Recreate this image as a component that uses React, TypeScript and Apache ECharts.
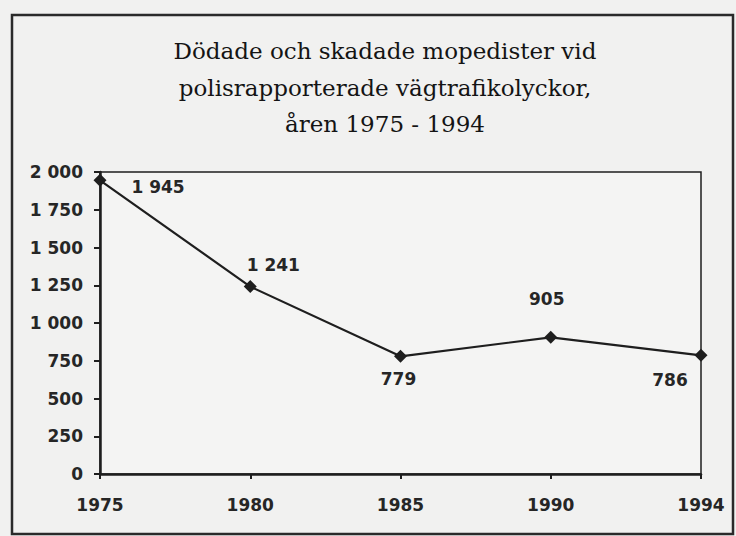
import React, { useEffect, useRef } from "react";
import * as echarts from "echarts";

const titleLines = [
  "Dödade och skadade mopedister vid",
  "polisrapporterade vägtrafikolyckor,",
  "åren 1975 - 1994",
];
const years = ["1975", "1980", "1985", "1990", "1994"];
const casualties = [1945, 1241, 779, 905, 786];
const yTicks = { min: 0, max: 2000, interval: 250 };
// label offsets (relative to marker centre) for each point
const labelOffsets = [
  [58, 7],
  [23, -22],
  [-2, 23],
  [-4, -38],
  [-31, 25],
];

const fmt = (v: number) => String(v).replace(/\B(?=(\d{3})+(?!\d))/g, " ");

export default function App() {
  const ref = useRef<HTMLDivElement>(null);
  useEffect(() => {
    document.body.style.margin = "0";
    const chart = echarts.init(ref.current!, null, { renderer: "svg" });
    const ink = "#1e1e1e";
    const tickFont = { fontFamily: "DejaVu Sans", fontSize: 17, fontWeight: "bold", color: "#262626" };
    chart.setOption({
      animation: false,
      backgroundColor: "#f1f1f0",
      title: {
        text: titleLines.join("\n"),
        left: 380,
        textAlign: "center",
        top: 28,
        textStyle: {
          fontFamily: "DejaVu Serif",
          fontSize: 23,
          lineHeight: 36.5,
          fontWeight: "normal",
          color: "#141414",
        },
      },
      graphic: [
        {
          type: "rect",
          shape: { x: 12, y: 15, width: 721, height: 519 },
          style: { fill: "none", stroke: "#2a2a2a", lineWidth: 2.5 },
          silent: true,
        },
      ],
      grid: {
        left: 100,
        right: 35,
        top: 172,
        bottom: 62,
        show: true,
        backgroundColor: "#f4f4f3",
        borderColor: ink,
        borderWidth: 1.5,
      },
      xAxis: {
        type: "category",
        data: years,
        boundaryGap: false,
        axisLine: { lineStyle: { color: ink, width: 2.5 } },
        axisTick: { show: true, alignWithLabel: true, length: 5, lineStyle: { color: ink, width: 2 } },
        axisLabel: { ...tickFont, margin: 22 },
        splitLine: { show: false },
      },
      yAxis: {
        type: "value",
        min: yTicks.min,
        max: yTicks.max,
        interval: yTicks.interval,
        axisLine: { show: true, lineStyle: { color: ink, width: 2.5 } },
        axisTick: { show: true, length: 6, lineStyle: { color: ink, width: 2 } },
        axisLabel: { ...tickFont, margin: 17, formatter: (v: number) => fmt(v) },
        splitLine: { show: false },
      },
      series: [
        {
          type: "line",
          data: casualties.map((v, i) => ({
            value: v,
            label: { offset: labelOffsets[i] },
          })),
          symbol: "diamond",
          symbolSize: 13,
          itemStyle: { color: ink },
          lineStyle: { color: ink, width: 2.2 },
          label: {
            show: true,
            position: "inside",
            ...tickFont,
            formatter: (p: any) => fmt(p.value),
          },
        },
      ],
    });
    return () => chart.dispose();
  }, []);
  return <div ref={ref} style={{ width: 736, height: 536 }} />;
}
